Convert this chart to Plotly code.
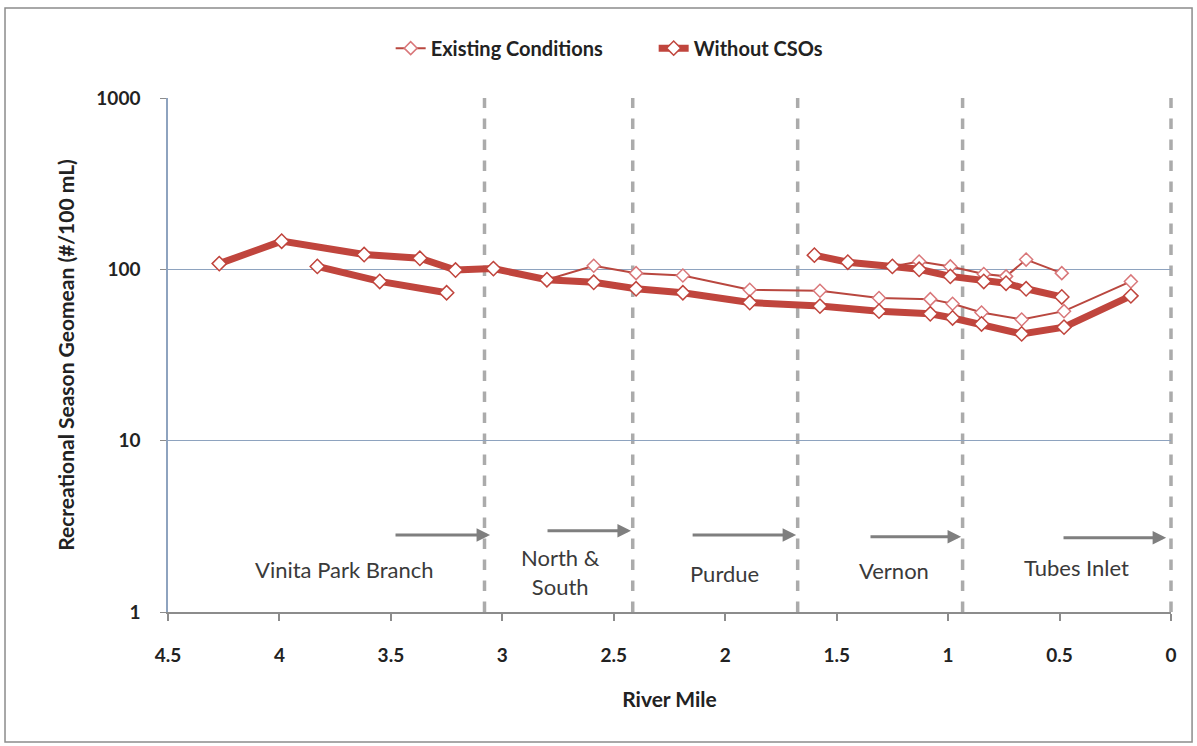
import plotly.graph_objects as go

# River mile positions (None separates the three plotted reaches)
miles = [4.27, 3.99, 3.62, 3.37, 3.21, 3.04, 2.80, 2.59, 2.40, 2.19, 1.89, 1.575, 1.31, 1.08, 0.98, 0.85, 0.67, 0.48, 0.18,
         None,
         3.83, 3.55, 3.25,
         None,
         1.60, 1.45, 1.25, 1.13, 0.99, 0.84, 0.74, 0.65, 0.49]

existing = [108, 146, 122, 116, 99, 101, 87, 105, 95, 92, 76, 75, 68, 67, 63, 56, 51, 57, 85,
            None,
            104, 85, 73,
            None,
            121, 110, 104, 111, 104, 94, 91, 114, 95]

without_cso = [108, 146, 122, 116, 99, 101, 87, 84, 77, 73, 64, 61, 57, 55, 52, 48, 42, 46, 70,
               None,
               104, 85, 73,
               None,
               121, 110, 104, 100, 91, 85, 83, 77, 69]

# Reach boundaries (river mile) and reach labels
boundaries = [3.08, 2.415, 1.675, 0.935, 0.0]
reach_names = ["Vinita Park Branch", "North &<br>South", "Purdue", "Vernon", "Tubes Inlet"]
reach_label_x = [3.71, 2.737, 2.005, 1.243, 0.426]
reach_label_logy = [0.246, 0.234, 0.222, 0.240, 0.257]
arrow_tail_x = [3.486, 2.804, 2.153, 1.355, 0.489]
arrow_head_x = [3.055, 2.423, 1.682, 0.942, 0.022]
arrow_logy = [0.450, 0.474, 0.450, 0.439, 0.433]

x_ticks = [4.5, 4, 3.5, 3, 2.5, 2, 1.5, 1, 0.5, 0]
y_ticks = [1, 10, 100, 1000]
X_MAX, X_MIN = 4.5, 0.0

FONT = "Lato"
RED = "#C0453D"

fig = go.Figure()
fig.add_trace(go.Scatter(
    x=miles, y=existing, name="Existing Conditions", mode="lines+markers",
    line=dict(color="#B9473F", width=2),
    marker=dict(symbol="diamond", size=10, color="white", line=dict(color="#D9777A", width=1.5)),
    connectgaps=False))
fig.add_trace(go.Scatter(
    x=miles, y=without_cso, name="Without CSOs", mode="lines+markers",
    line=dict(color=RED, width=7),
    marker=dict(symbol="diamond", size=11, color="white", line=dict(color=RED, width=1.5)),
    connectgaps=False))

shapes = []
for b in boundaries:
    xp = (X_MAX - b) / (X_MAX - X_MIN)
    shapes.append(dict(type="line", xref="paper", yref="paper", x0=xp, x1=xp, y0=0, y1=1,
                       line=dict(color="#ABABAB", width=3.5, dash="dash"), layer="below"))
# outer chart border
shapes.append(dict(type="rect", xref="paper", yref="paper", x0=-0.1625, x1=1.021, y0=-0.253, y1=1.175,
                   line=dict(color="#8C8C8C", width=1.5)))

annotations = []
for name, lx, ly in zip(reach_names, reach_label_x, reach_label_logy):
    annotations.append(dict(x=lx, y=ly, xref="x", yref="y", text=name, showarrow=False,
                            font=dict(family=FONT, size=22, color="#3A3A3A")))
for tx, hx, ay in zip(arrow_tail_x, arrow_head_x, arrow_logy):
    annotations.append(dict(x=hx, y=ay, ax=tx, ay=ay, xref="x", yref="y", axref="x", ayref="y",
                            text="", showarrow=True, arrowhead=2, arrowsize=0.9, arrowwidth=3,
                            arrowcolor="#7F7F7F"))

fig.update_layout(
    width=1197, height=746,
    margin=dict(l=168, r=26, t=98, b=134),
    paper_bgcolor="white", plot_bgcolor="white",
    font=dict(family=FONT, color="#222222"),
    showlegend=True,
    legend=dict(orientation="h", x=0.222, y=1.097, xanchor="left", yanchor="middle",
                entrywidth=218, entrywidthmode="pixels",
                font=dict(family=FONT, size=20, weight="bold", color="#222222"),
                bgcolor="rgba(0,0,0,0)"),
    shapes=shapes,
    annotations=annotations,
)
fig.update_xaxes(
    range=[X_MAX, X_MIN], tickvals=x_ticks, ticktext=[str(v) for v in x_ticks],
    showgrid=False, zeroline=False,
    showline=True, linecolor="#8C8C8C", linewidth=2,
    ticks="outside", ticklen=7, tickwidth=2, tickcolor="#8C8C8C",
    tickfont=dict(family=FONT, size=19, weight="bold", color="#222222"),
    ticklabelstandoff=18,
    title=dict(text="River Mile", font=dict(family=FONT, size=21, weight="bold", color="#222222"), standoff=28),
)
fig.update_yaxes(
    type="log", range=[0, 3], tickvals=y_ticks, ticktext=[str(v) for v in y_ticks],
    showgrid=True, gridcolor="#8EA3BF", gridwidth=1.2,
    showline=True, linecolor="#8EA3BF", linewidth=1.5,
    ticks="outside", ticklen=6, tickcolor="#8C8C8C",
    tickfont=dict(family=FONT, size=19, weight="bold", color="#222222"),
    ticklabelstandoff=16,
    title=dict(text="Recreational Season Geomean (#/100 mL)",
               font=dict(family=FONT, size=21, weight="bold", color="#222222"), standoff=16),
)

fig.write_html("out.html")
